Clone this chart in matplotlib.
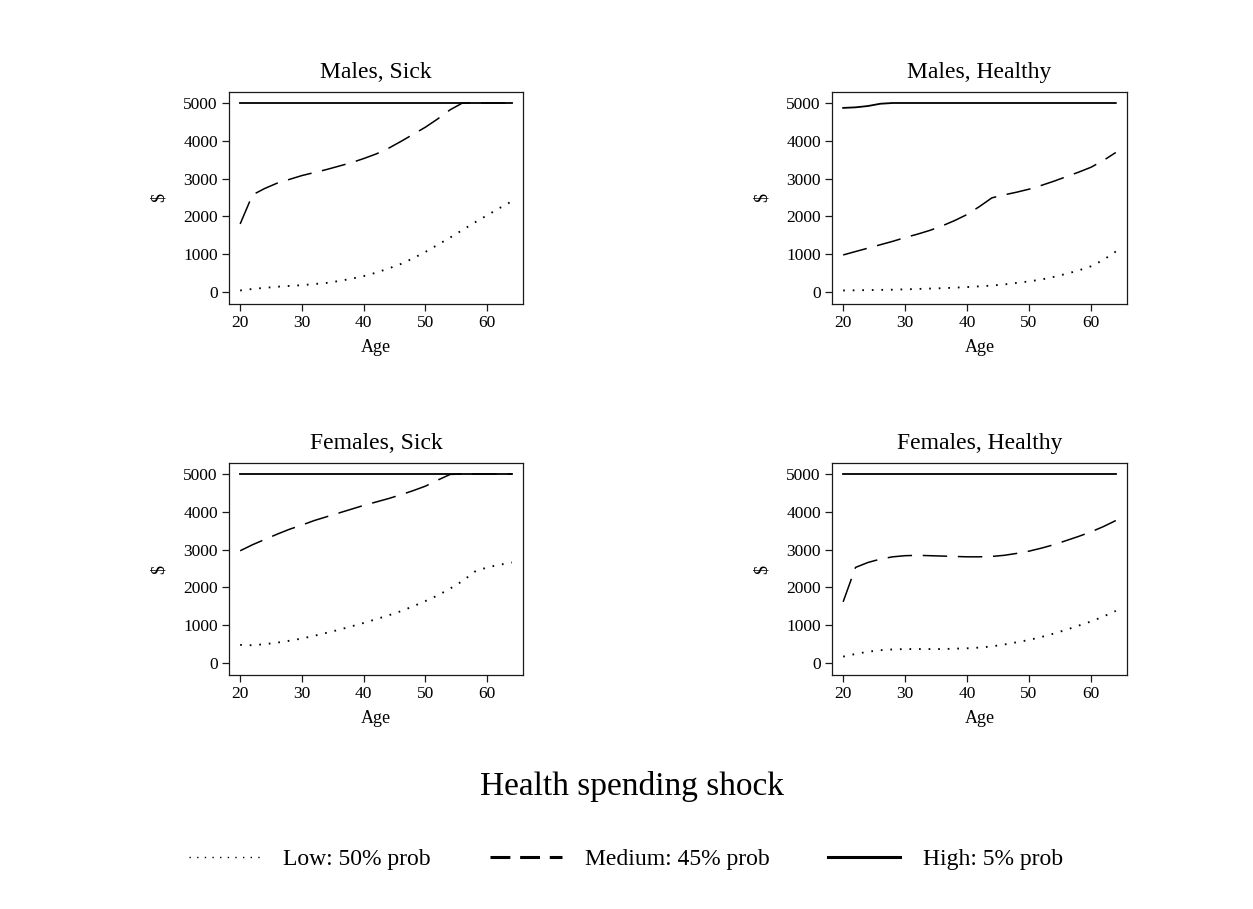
import matplotlib
matplotlib.use("Agg")
import matplotlib.pyplot as plt
from matplotlib.lines import Line2D

plt.rcParams["font.family"] = ["Liberation Serif", "DejaVu Serif"]

# Ages at which the simulated spending shocks are reported
ages = [20, 22, 24, 26, 28, 30, 32, 34, 36, 38, 40, 42, 44, 46, 48, 50, 52, 54, 56, 58, 60, 62, 64]

# Males, sick
males_sick_low = [40, 80, 110, 140, 160, 180, 210, 240, 290, 350, 420, 510, 620, 740, 890,
                  1060, 1250, 1440, 1640, 1840, 2030, 2220, 2400]
males_sick_med = [1800, 2570, 2740, 2880, 2980, 3080, 3160, 3240, 3330, 3420, 3530, 3650, 3800,
                  3980, 4170, 4360, 4580, 4820, 5000, 5000, 5000, 5000, 5000]
males_sick_high = [5000] * 23

# Males, healthy
males_healthy_low = [40, 45, 50, 55, 60, 70, 80, 90, 100, 115, 130, 150, 170, 200, 240,
                     280, 330, 400, 480, 570, 680, 850, 1070]
males_healthy_med = [980, 1070, 1160, 1250, 1340, 1440, 1530, 1630, 1750, 1890, 2050, 2260, 2490,
                     2570, 2640, 2720, 2820, 2930, 3050, 3170, 3300, 3480, 3690]
males_healthy_high = [4870, 4885, 4920, 4980, 5000, 5000, 5000, 5000, 5000, 5000, 5000, 5000,
                      5000, 5000, 5000, 5000, 5000, 5000, 5000, 5000, 5000, 5000, 5000]

# Females, sick
females_sick_low = [480, 470, 500, 540, 590, 650, 720, 800, 880, 970, 1060, 1160, 1260, 1370,
                    1500, 1640, 1790, 1970, 2170, 2420, 2530, 2600, 2660]
females_sick_med = [2970, 3130, 3270, 3410, 3540, 3650, 3770, 3870, 3970, 4070, 4170, 4260, 4350,
                    4450, 4560, 4680, 4840, 4990, 5000, 5000, 5000, 5000, 5000]
females_sick_high = [5000] * 23

# Females, healthy
females_healthy_low = [170, 240, 300, 340, 360, 370, 370, 370, 370, 380, 390, 410, 440, 490,
                       550, 610, 690, 780, 880, 990, 1100, 1230, 1380]
females_healthy_med = [1620, 2530, 2660, 2750, 2810, 2840, 2850, 2840, 2830, 2820, 2810, 2810,
                       2820, 2850, 2900, 2960, 3040, 3130, 3240, 3350, 3470, 3610, 3770]
females_healthy_high = [5000] * 23

panel_titles = ["Males, Sick", "Males, Healthy", "Females, Sick", "Females, Healthy"]
panel_series = [
    (males_sick_low, males_sick_med, males_sick_high),
    (males_healthy_low, males_healthy_med, males_healthy_high),
    (females_sick_low, females_sick_med, females_sick_high),
    (females_healthy_low, females_healthy_med, females_healthy_high),
]
legend_labels = ["Low: 50% prob", "Medium: 45% prob", "High: 5% prob"]
x_ticks = [20, 30, 40, 50, 60]
y_ticks = [0, 1000, 2000, 3000, 4000, 5000]

fig = plt.figure(figsize=(12.53, 9.09), dpi=100)

positions = [
    [0.1828, 0.6656, 0.2346, 0.2332],
    [0.6640, 0.6656, 0.2354, 0.2332],
    [0.1828, 0.2574, 0.2346, 0.2332],
    [0.6640, 0.2574, 0.2354, 0.2332],
]

dot_style = (0, (0.9, 4.2))
dash_style = (0, (16, 7))

for pos, title, (low, med, high) in zip(positions, panel_titles, panel_series):
    ax = fig.add_axes(pos)
    ax.plot(ages, low, color="black", lw=1.35, linestyle=dot_style)
    ax.plot(ages, med, color="black", lw=1.1, linestyle=dash_style)
    ax.plot(ages, high, color="black", lw=1.3, linestyle="-")
    ax.set_xlim(18.2, 65.8)
    ax.set_ylim(-317, 5291)
    ax.set_xticks(x_ticks)
    ax.set_yticks(y_ticks)
    ax.tick_params(axis="both", direction="out", length=5, width=0.9,
                   color="#1a1a1a", labelsize=12.5, pad=3)
    ax.set_title(title, fontsize=17, pad=10)
    ax.set_xlabel("Age", fontsize=13, labelpad=6)
    ax.set_ylabel("$", fontsize=13, labelpad=11)
    for sp in ax.spines.values():
        sp.set_linewidth(0.9)
        sp.set_color("#1a1a1a")

handles = [
    Line2D([], [], color="black", lw=1.0, linestyle=(0, (1, 4.5))),
    Line2D([], [], color="black", lw=2.2, linestyle=(0, (6.5, 3.2))),
    Line2D([], [], color="black", lw=2.2, linestyle="-"),
]
fig.legend(handles, legend_labels, loc="center", bbox_to_anchor=(0.4996, 0.0545),
           ncol=3, frameon=False, fontsize=17, handlelength=3.05,
           handletextpad=0.95, columnspacing=2.5)
fig.text(0.504, 0.1345, "Health spending shock", ha="center", va="center", fontsize=24)

fig.savefig("out.png", dpi=100, facecolor="white")
